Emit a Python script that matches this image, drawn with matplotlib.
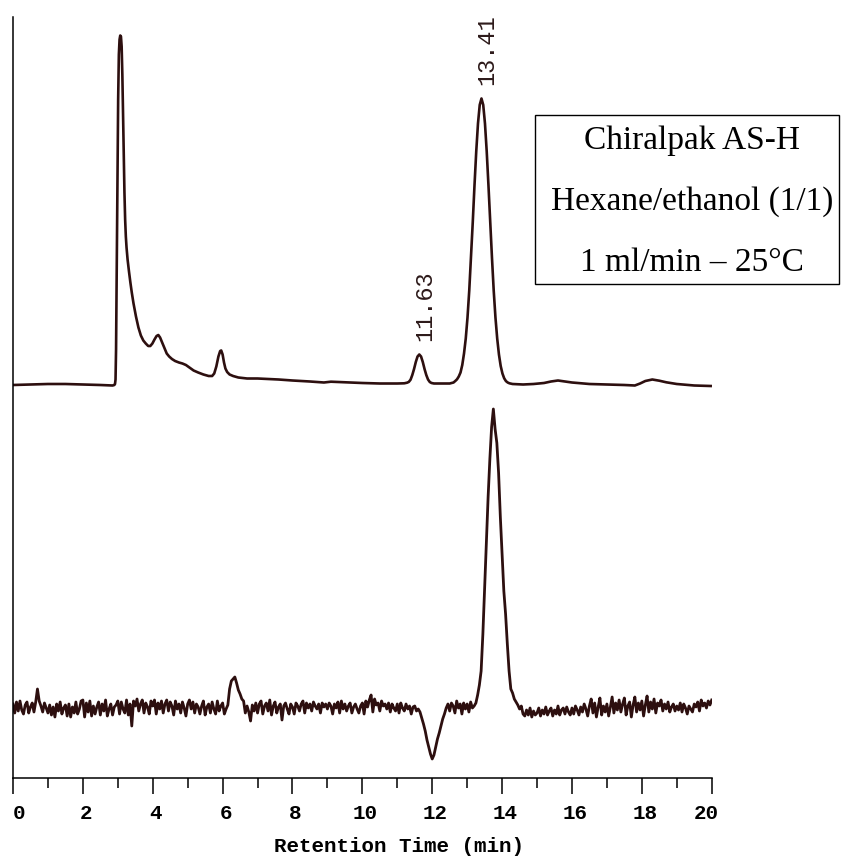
import numpy as np
import matplotlib
matplotlib.use("Agg")
import matplotlib.pyplot as plt
import matplotlib.transforms as mtransforms
from matplotlib.patches import Rectangle

# top trace: racemate, detector signal above its own baseline
rac_time = [0.0, 0.5, 1.0, 1.5, 2.0, 2.5, 2.85, 2.90, 2.92, 2.935, 2.95, 2.97, 2.99,
            3.01, 3.03, 3.05, 3.07, 3.09, 3.11, 3.13, 3.15, 3.17, 3.19, 3.21, 3.23,
            3.25, 3.28, 3.32, 3.36, 3.40, 3.45, 3.52, 3.59, 3.66, 3.73, 3.80, 3.87,
            3.93, 3.99, 4.05, 4.11, 4.16, 4.21, 4.27, 4.34, 4.40, 4.47, 4.55, 4.64,
            4.75, 4.85, 4.95, 5.05, 5.17, 5.30, 5.45, 5.60, 5.70, 5.76, 5.82, 5.88,
            5.93, 5.96, 6.00, 6.04, 6.08, 6.13, 6.20, 6.30, 6.45, 6.70, 7.0, 7.3,
            7.6, 8.0, 8.5, 8.9, 9.1, 9.3, 9.6, 10.0, 10.5, 11.0, 11.2, 11.28, 11.33,
            11.38, 11.43, 11.48, 11.53, 11.58, 11.63, 11.68, 11.73, 11.78, 11.83,
            11.88, 11.93, 11.98, 12.05, 12.5, 12.61, 12.66, 12.71, 12.76, 12.81,
            12.86, 12.91, 12.96, 13.01, 13.06, 13.11, 13.16, 13.21, 13.26, 13.31,
            13.36, 13.41, 13.46, 13.51, 13.56, 13.61, 13.66, 13.71, 13.76, 13.81,
            13.86, 13.91, 13.96, 14.01, 14.06, 14.11, 14.16, 14.21, 14.3, 14.6,
            14.9, 15.2, 15.4, 15.6, 15.8, 16.0, 16.5, 17.0, 17.5, 17.8, 17.95, 18.1,
            18.3, 18.5, 18.7, 19.0, 19.5, 19.97]
rac_signal = [-0.5, 0, 0.5, 0.5, 0, -0.5, -1, -0.5, 0.5, 5, 35, 120, 210,
              285, 330, 345, 349, 348, 338, 310, 270, 228, 192, 165, 148,
              137, 125, 113, 102, 92, 81, 68, 57, 49, 44, 41, 38.5,
              38.5, 41, 45, 48.5, 49.5, 47, 42, 36, 31, 28, 25.5, 23.5,
              22, 21, 19.5, 17, 14, 12, 10, 8.5, 8.5, 11, 18, 28,
              33.5, 34, 30, 22, 16, 12.5, 10, 8.5, 7, 6, 6, 5.5,
              5, 4, 3, 2, 2.8, 2.5, 2, 1.5, 1, 1, 1.2, 1.8, 2.6,
              4.8, 9.5, 15.5, 22.5, 28, 30, 28, 22.5, 15.5, 9.5,
              5, 2.5, 1.5, 1, 1, 2, 3.5, 5.2, 8, 12,
              19.5, 31, 46, 67, 94, 127, 162, 199, 233, 261,
              279.6, 286, 279.6, 261, 233, 199, 162, 127, 94, 67,
              46, 30, 18.5, 11, 6.2, 3.4, 2, 1.2, 0.5, 0,
              0.5, 1.5, 3, 4, 3, 2, 0.5, 0, -0.5, -1, 1, 3.5,
              5, 3.8, 2.2, 0.5, -1, -1.5]

# bottom trace: sampled every 0.05 min, one row per minute
ent_signal = [
    5, -4, 7, -2, 8, -1, -5, 4, 7, -4, 2, 6, -3, 7, 20, 8, 3, -3, 6, 1,
    -4, 4, -6, 2, -8, 5, -2, 7, -5, 1, 4, -7, 5, -8, 2, -4, 7, -5, 0, 8,
    9, -8, 6, -3, 8, -7, 3, -5, 2, 7, -6, 5, -2, 9, -7, 0, 5, -6, 2, 4,
    8, -5, 7, 0, -4, 9, -6, 5, -17, 8, 3, 10, -2, 5, 9, -4, 6, 2, -5, 8,
    3, 9, -5, 6, 0, 8, -4, 5, 9, -2, 7, 3, -6, 8, 0, 5, -4, 7, 1, -7,
    5, 9, 0, 7, -4, 5, 2, -5, 3, 8, -6, 2, 5, -4, 7, 0, -5, 8, -2, 3,
    6, -5, 0, 4, 20, 28, 30, 32, 26, 19, 15, 10, 8, -4, 3, -3, -12, 4, -2, 6,
    -4, 5, 8, -5, 3, 6, -2, 9, -6, 3, 7, -4, 2, 5, -11, 3, 6, 0, -5, 5,
    2, -5, 6, 3, -2, 5, 8, -4, 6, 1, 5, -2, 7, 3, 0, 5, -4, 6, 2, 5,
    0, 6, 3, -5, 5, 1, 7, -4, 8, 0, 5, -2, 3, 6, -4, 2, 5, 0, -4, 3,
    6, -5, 8, 2, 9, 14, -3, 10, 4, 6, -2, 8, 3, 5, 0, 6, -3, 5, 1, -2,
    5, -4, 6, 1, -2, 5, 0, 3, -5, 2, 3, -2, 0, -3, -9, -15, -22, -31, -38, -45,
    -50, -46, -38, -30, -24, -17, -10, -5, 1, 5, -2, 6, 3, -4, 8, 1, 5, -5, 6, 0,
    5, -3, 7, 1, 3, 6, 14, 24, 38, 75, 120, 165, 212, 250, 282, 300, 280, 266, 236, 192,
    155, 118, 95, 65, 38, 20, 16, 10, 7, 4, 0, 3, -5, -7, -1, -6, 1, -8, -2, -6,
    -4, 1, -7, -1, -5, 2, -6, -2, 1, -7, -1, -5, 3, -6, -1, 1, -5, 2, -3, -6,
    1, -5, 3, -1, -6, 2, -3, 5, 0, -7, 3, 10, -4, 6, -8, 2, 11, -6, 3, -3,
    5, -7, 2, 12, -4, 6, -1, 9, -3, 5, 11, -6, 3, 7, -8, 4, 12, -3, 6, -1,
    8, -7, 4, 13, -3, 7, 0, 10, -4, 6, 3, 9, -2, 5, 0, 7, -3, 2, 5, -2,
    3, -1, 6, -3, 5, 1, -5, 3, 0, -3, 5, 2, 7, -2, 9, 3, 6, 1, 8, 4,
    9,
]
ent_time = np.arange(len(ent_signal)) * 0.05

peak_labels = ["11.63", "13.41"]
peak_times = [11.63, 13.41]
peak_heights = [30, 286]

major_ticks = [0, 2, 4, 6, 8, 10, 12, 14, 16, 18, 20]
minor_ticks = [1, 3, 5, 7, 9, 11, 13, 15, 17, 19]

box_lines = ["Chiralpak AS-H", "Hexane/ethanol (1/1)", "1 ml/min \u2013 25\u00b0C"]

trace_color = "#2d0f0f"
rac_offset = 393.5
ent_offset = 69

fig = plt.figure(figsize=(8.41, 8.56), dpi=100)
ax = fig.add_axes([13 / 841, 78 / 856, 698.7 / 841, 761 / 856])

ax.plot(rac_time, np.array(rac_signal) + rac_offset, color=trace_color, lw=1.9,
        solid_joinstyle="round")
ax.plot(ent_time, np.array(ent_signal) + ent_offset, color=trace_color, lw=2.0,
        solid_joinstyle="round")

for lab, t, h in zip(peak_labels, peak_times, peak_heights):
    ax.annotate(lab, xy=(t, h + rac_offset), xytext=(4, 10), textcoords="offset points",
                rotation=90, ha="center", va="bottom", fontsize=17,
                family="Liberation Mono", color="#2d1a1a")

ax.set_xlim(0, 20)
ax.set_ylim(0, 761)
ax.spines["top"].set_visible(False)
ax.spines["right"].set_visible(False)
ax.spines["left"].set_linewidth(1.1)
ax.spines["bottom"].set_linewidth(1.1)
ax.set_yticks([])

ax.set_xticks(major_ticks)
ax.set_xticks(minor_ticks, minor=True)
ax.set_xticklabels([str(v) for v in major_ticks], family="Liberation Mono",
                   fontweight="bold", fontsize=15)
ax.tick_params(axis="x", which="major", direction="out", length=11.5, width=1.1, pad=7)
ax.tick_params(axis="x", which="minor", direction="out", length=7.2, width=1.1)

# nudge tick labels: end labels pulled inside the frame
for tick, v in zip(ax.xaxis.get_major_ticks(), major_ticks):
    dx = 3
    if v == 0:
        dx = 6.5
    elif v == 20:
        dx = -5.5
    shift = mtransforms.ScaledTranslation(dx / 100, 0, fig.dpi_scale_trans)
    tick.label1.set_transform(tick.label1.get_transform() + shift)

ax.set_xlabel("Retention Time (min)", family="Liberation Mono", fontweight="bold",
              fontsize=15, va="center")
ax.xaxis.set_label_coords((399 - 13) / 698.7, (778 - 847) / 761)

# conditions box, upper right
fig.patches.append(Rectangle((535 / 841, 1 - 284 / 856), 304 / 841, 169 / 856,
                             transform=fig.transFigure, fill=False, lw=1.0,
                             edgecolor="black"))
for i, line in enumerate(box_lines):
    fig.text(692 / 841, 1 - (141 + 61 * i) / 856, line, ha="center", va="center",
             family="Liberation Serif", fontsize=24)

fig.savefig("out.png", dpi=100)
